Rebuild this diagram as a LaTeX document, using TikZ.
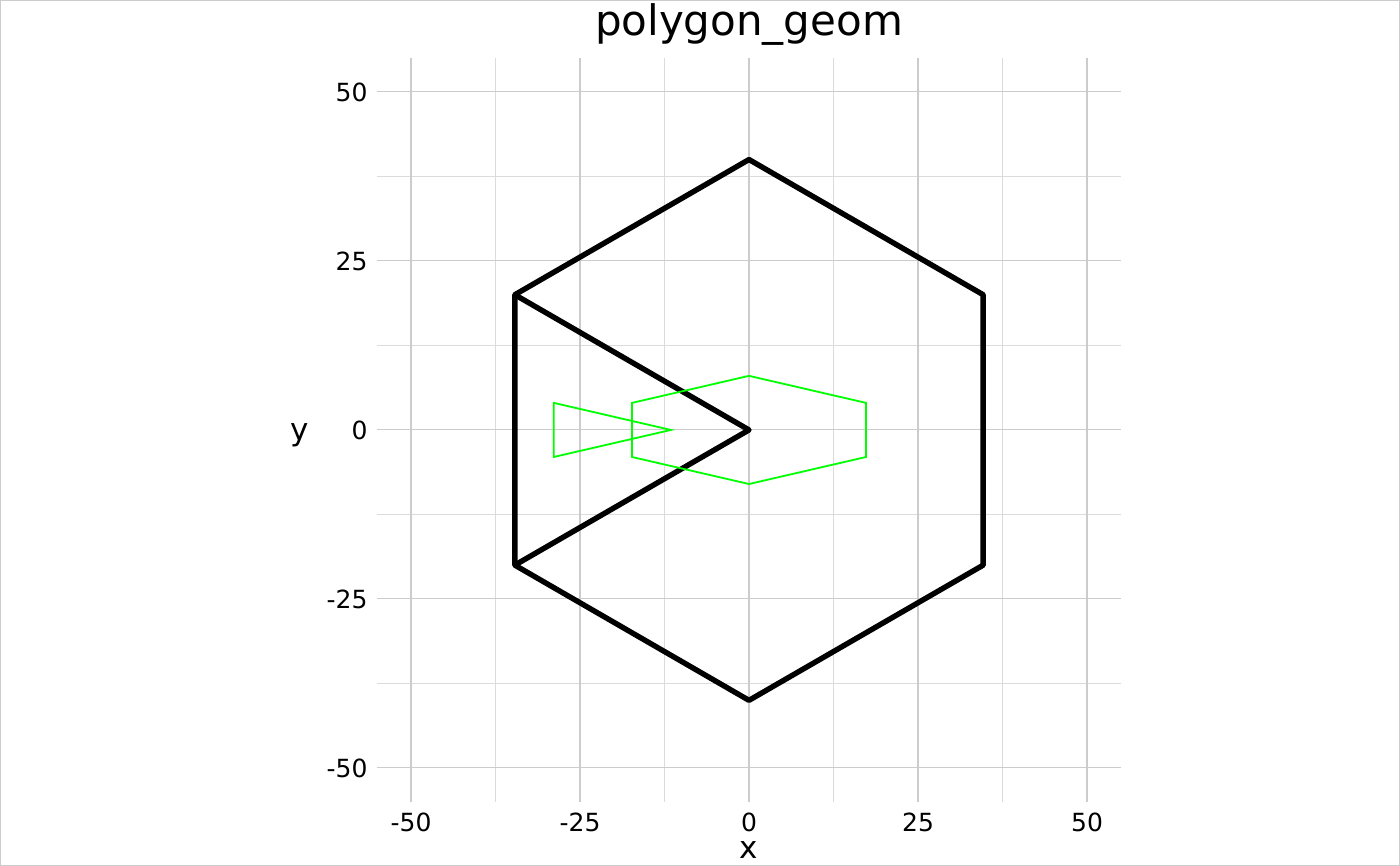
\documentclass[tikz,border=0pt]{standalone}
\usepackage{fontspec}
\setmainfont{DejaVu Sans}
\usetikzlibrary{positioning}

\begin{document}
\begin{tikzpicture}[x=6.76pt, y=6.76pt,
    major/.style={draw=black!20, line width=1.1pt},
    minor/.style={draw=black!14, line width=0.8pt},
    bigshape/.style={draw=black, line width=5.4pt, line join=round},
    smallshape/.style={draw=green, line width=1.8pt},
    ticklab/.style={font=\fontsize{25}{25}\selectfont, inner sep=0pt}]
    % frame of the whole image
    \useasboundingbox (-110.8,-64.5) rectangle (96.3,63.6);
    \draw[black!20, line width=1.2pt] (-110.7,-64.4) rectangle (96.2,63.5);

    % grid
    \foreach \v in {-37.5,-12.5,12.5,37.5} {
        \draw[minor] (\v,-55) -- (\v,55);
        \draw[minor] (-55,\v) -- (55,\v);
    }
    \foreach \v in {-50,-25,0,25,50} {
        \draw[major] (\v,-55) -- (\v,55);
        \draw[major] (-55,\v) -- (55,\v);
        \node[ticklab, anchor=north] (xt\v) at (\v,-56.7) {\v};
        \node[ticklab, anchor=east] (yt\v) at (-56.4,\v) {\v};
    }

    % polygons
    \coordinate (top) at (0,40);
    \coordinate (tr) at (34.64,20);
    \coordinate (br) at (34.64,-20);
    \coordinate (bot) at (0,-40);
    \coordinate (bl) at (-34.64,-20);
    \coordinate (tl) at (-34.64,20);
    \coordinate (mid) at (0,0);
    \draw[bigshape] (top) -- (tr) -- (br) -- (bot) -- (bl) -- (tl) -- cycle;
    \draw[bigshape] (tl) -- (mid) -- (bl);

    \draw[smallshape] (0,8) -- (17.32,4) -- (17.32,-4) -- (0,-8)
        -- (-17.32,-4) -- (-17.32,4) -- cycle;
    \draw[smallshape] (-28.87,4) -- (-11.55,0) -- (-28.87,-4) -- cycle;

    % titles
    \node[font=\fontsize{42}{42}\selectfont, anchor=base, inner sep=0pt] (title) at (0,58.4) {polygon\_geom};
    \node[font=\fontsize{31}{31}\selectfont, anchor=base, inner sep=0pt] (xlab) at (0,-63.4) {x};
    \node[font=\fontsize{31}{31}\selectfont, anchor=base, inner sep=0pt] (ylab) at (-66.4,-1.5) {y};
\end{tikzpicture}
\end{document}
